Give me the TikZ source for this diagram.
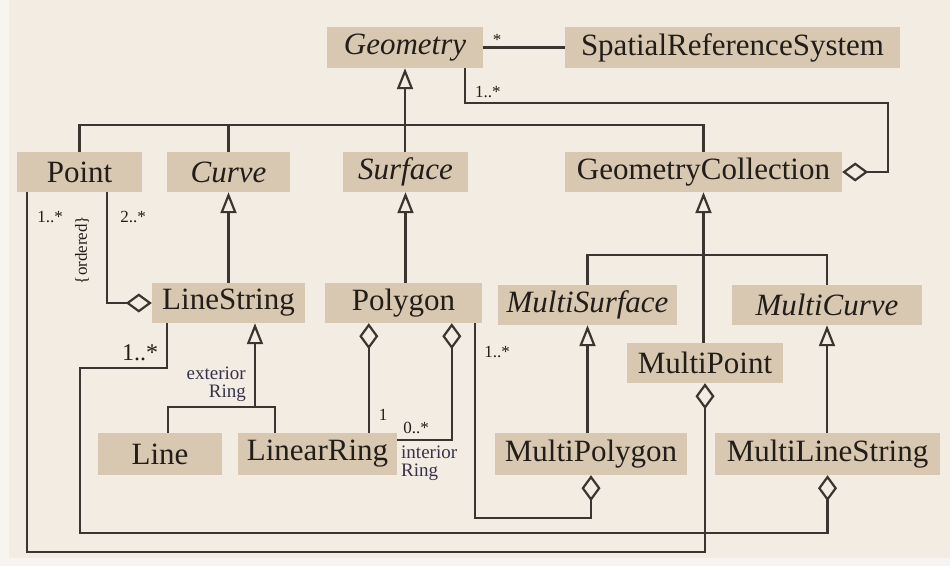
\documentclass[tikz,border=0pt]{standalone}
\usepackage{fontspec}
\setmainfont{Liberation Serif}
\usetikzlibrary{arrows.meta,calc}
\definecolor{paper}{HTML}{F3ECE2}
\definecolor{paperedge}{HTML}{F8F4EF}
\definecolor{boxfill}{HTML}{D9C8B1}
\definecolor{ink}{HTML}{3A3530}
\definecolor{textink}{HTML}{221D18}
\definecolor{roleink}{HTML}{35324A}

\begin{document}
\begin{tikzpicture}[x=1pt,y=-1pt,
  cls/.style={fill=boxfill, inner sep=0pt, text=textink,
    font=\fontsize{31}{36}\selectfont},
  abs/.style={cls, font=\fontsize{31}{36}\selectfont\itshape},
  conn/.style={draw=ink, line width=2.2pt},
  gen/.style={conn, -{Triangle[open,length=21pt,width=16pt]}},
  aggend/.style={conn, -{Diamond[open,length=26pt,width=19pt]}},
  aggstart/.style={conn, {Diamond[open,length=26pt,width=19pt]}-},
  mult/.style={text=textink, font=\fontsize{17}{18}\selectfont, inner sep=0pt},
  role/.style={text=roleink, font=\fontsize{19}{18}\selectfont, inner sep=0pt}
]
% paper
\useasboundingbox (0,0) rectangle (950,566);
\fill[paperedge] (0,0) rectangle (950,566);
\fill[paper] (9,0) rectangle (950,558);

% classes
\node[abs, minimum width=156pt, minimum height=41pt] (geom) at (405,47.5) {Geometry};
\node[cls, minimum width=335pt, minimum height=41pt] (srs) at (732.5,47.5) {SpatialReferenceSystem};
\node[cls, minimum width=125pt, minimum height=40pt] (point) at (79.5,172) {Point};
\node[abs, minimum width=123pt, minimum height=40pt] (curve) at (228.5,172) {Curve};
\node[abs, minimum width=125pt, minimum height=40pt] (surface) at (405.5,172) {Surface};
\node[cls, minimum width=277pt, minimum height=40pt] (gc) at (703.5,172) {GeometryCollection};
\node[cls, minimum width=153pt, minimum height=40pt] (linestring) at (228.5,303) {LineString};
\node[cls, minimum width=157pt, minimum height=40pt] (polygon) at (403.5,303) {Polygon};
\node[abs, minimum width=179pt, minimum height=40pt] (multisurface) at (587.5,305) {MultiSurface};
\node[abs, minimum width=190pt, minimum height=40pt] (multicurve) at (827,305) {MultiCurve};
\node[cls, minimum width=156pt, minimum height=40pt] (multipoint) at (705,363) {MultiPoint};
\node[cls, minimum width=124pt, minimum height=42pt] (line) at (160,454) {Line};
\node[cls, minimum width=159pt, minimum height=42pt] (linearring) at (317.5,454) {LinearRing};
\node[cls, minimum width=192pt, minimum height=42pt] (multipolygon) at (591,454) {MultiPolygon};
\node[cls, minimum width=225pt, minimum height=42pt] (multilinestring) at (827.5,454) {MultiLineString};

% associations of Geometry
\draw[conn] (geom.east) -- (srs.west);
\draw[aggend] ([xshift=-18pt]geom.south east) -- ++(0,35) -| ($(gc.east)+(46,0)$) -- (gc.east);

% generalization tree under Geometry
\draw[gen] (geom.south |- surface.north) -- (geom.south);
\draw[conn] (point.north) -- ++(0,-27) -| (gc.north);
\draw[conn] (curve.north) -- ++(0,-27);

% generalizations of the second level
\draw[gen] (linestring.north) -- (curve.south);
\draw[gen] (surface.south |- polygon.north) -- (surface.south);
\draw[gen] (gc.south |- multipoint.north) -- (gc.south);
\draw[conn] (multisurface.north) -- ++(0,-30) -| (multicurve.north);
\draw[gen] (multisurface.south |- multipolygon.north) -- (multisurface.south);
\draw[gen] (multicurve.south |- multilinestring.north) -- (multicurve.south);

% Line and LinearRing specialise LineString
\draw[conn] ([xshift=70pt]line.north west) -- ++(0,-26) -| ([xshift=37pt]linearring.north west);
\coordinate (lsfoot) at ($(linestring.south)+(26.5,84)$);
\draw[gen] (lsfoot) -- (lsfoot |- linestring.south);

% aggregations
\draw[aggend] ([xshift=-35pt]point.south east) |- (linestring.west);
\draw[aggend] ([xshift=10pt]point.south west) -- ++(0,360) -| (multipoint.south);
\draw[aggend] ([xshift=15pt]linestring.south west) -- ++(0,45) -- ++(-87,0) -- ++(0,165) -| (multilinestring.south);
\draw[aggend] ([xshift=-7pt]polygon.south east) -- ++(0,195) -| (multipolygon.south);
\draw[aggstart] ([xshift=44pt]polygon.south west) -- ++(0,110);
\draw[aggstart] ([xshift=127pt]polygon.south west) |- ([yshift=-7pt]linearring.north east);

% multiplicities and roles
\node[mult] (mSrs) at (497,40) {*};
\node[mult, anchor=west] (mGeom) at (475,92) {1..*};
\node[mult] (mPt1) at (50,217) {1..*};
\node[mult] (mPt2) at (133,217) {2..*};
\node[mult, rotate=90] (ordered) at (82,250) {\{ordered\}};
\node[mult, font=\fontsize{24}{26}\selectfont] (mLs) at (140,353) {1..*};
\node[role, align=right, anchor=north east] (ext) at (246,367) {exterior\\Ring};
\node[mult] (mOne) at (383,415) {1};
\node[mult] (mZero) at (416,428) {0..*};
\node[role, align=left, anchor=north west] (int) at (401,446) {interior\\Ring};
\node[mult] (mPoly) at (497,352) {1..*};
\end{tikzpicture}
\end{document}
